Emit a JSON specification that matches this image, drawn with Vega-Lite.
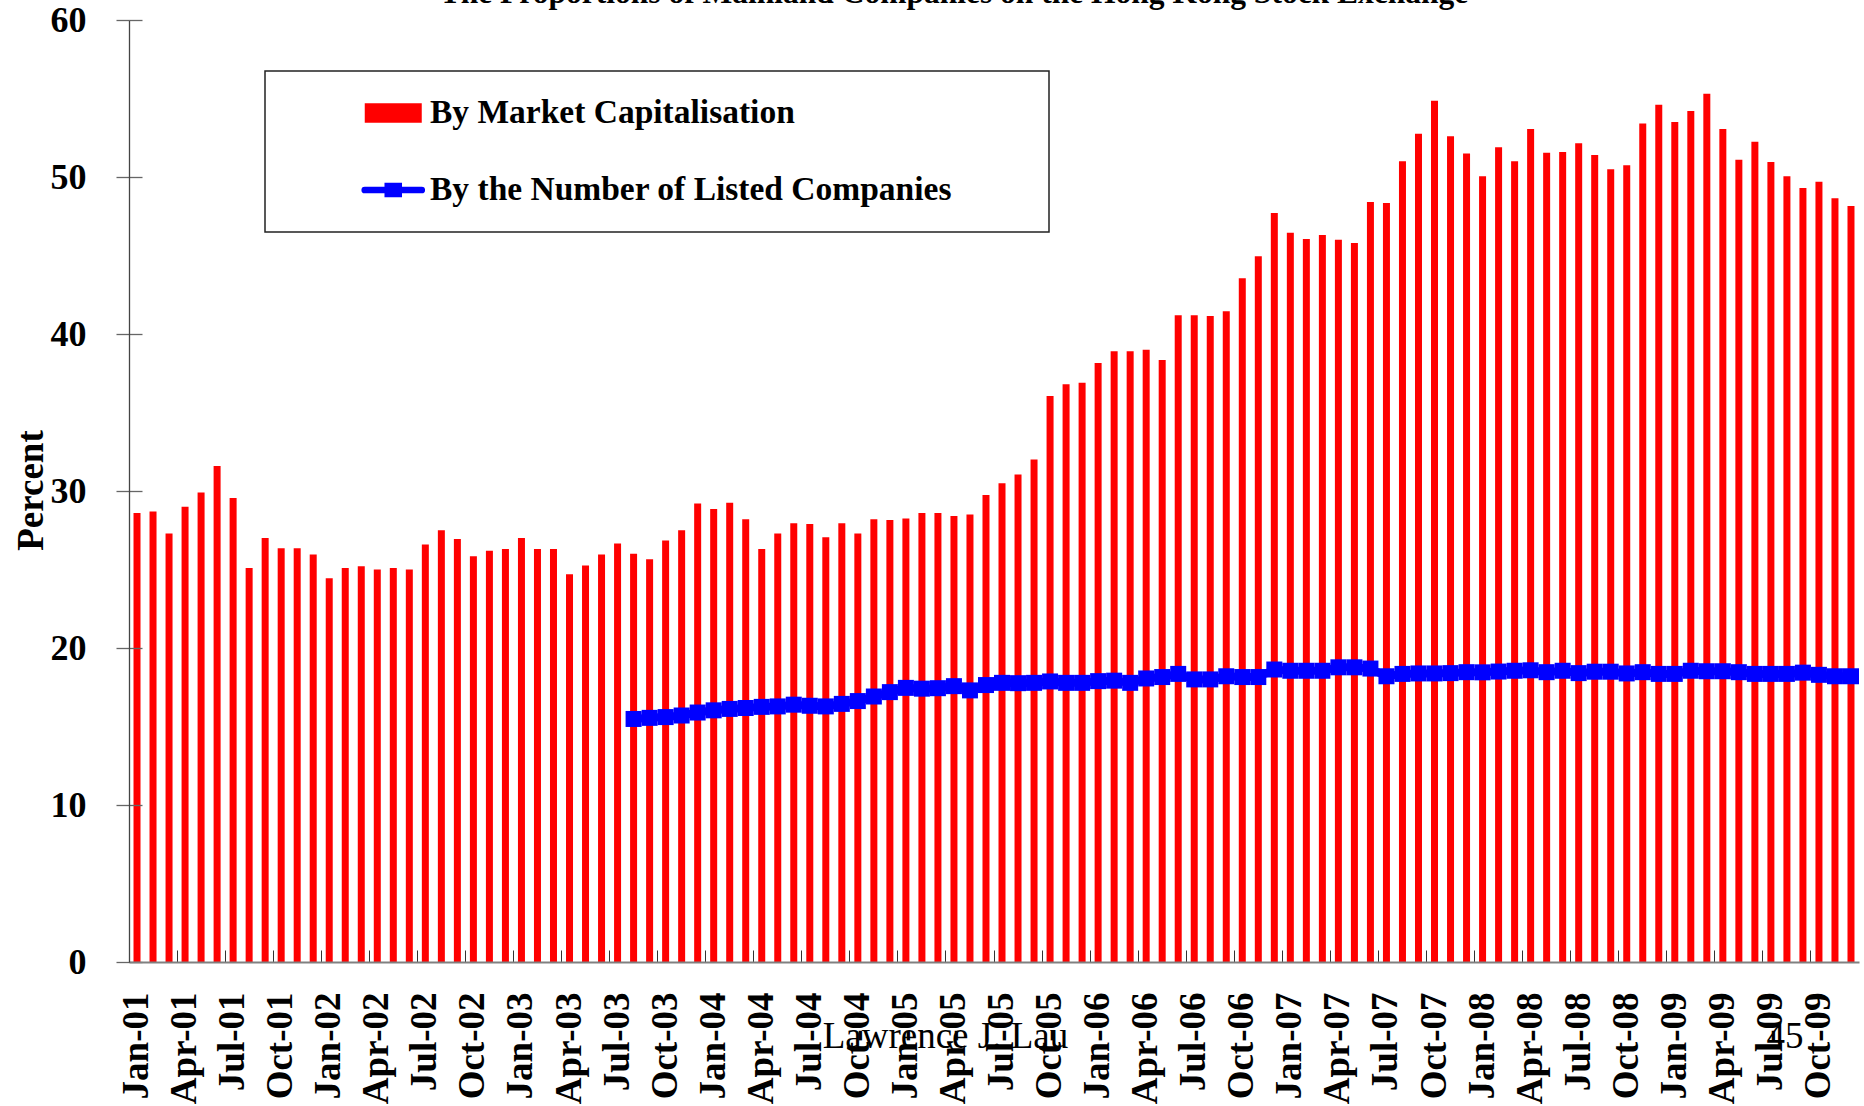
{
  "$schema": "https://vega.github.io/schema/vega-lite/v6.json",
  "width": 1730,
  "height": 942,
  "autosize": {"type": "none"},
  "padding": {"left": 129, "top": 20, "right": 5, "bottom": 144},
  "background": "white",
  "title": {
    "text": "The Proportions of Mainland Companies on the Hong Kong Stock Exchange",
    "font": "Liberation Serif", "fontSize": 31.5, "fontWeight": "bold", "color": "#000000",
    "anchor": "middle", "frame": "group", "baseline": "alphabetic", "offset": -32, "dx": -40
  },
  "data": {"values": [
    {"month": "Jan-01", "cap": 28.6}, {"month": "Feb-01", "cap": 28.7}, {"month": "Mar-01", "cap": 27.3},
    {"month": "Apr-01", "cap": 29.0}, {"month": "May-01", "cap": 29.9}, {"month": "Jun-01", "cap": 31.6},
    {"month": "Jul-01", "cap": 29.55}, {"month": "Aug-01", "cap": 25.1}, {"month": "Sep-01", "cap": 27.0},
    {"month": "Oct-01", "cap": 26.35}, {"month": "Nov-01", "cap": 26.35}, {"month": "Dec-01", "cap": 25.95},
    {"month": "Jan-02", "cap": 24.45}, {"month": "Feb-02", "cap": 25.1}, {"month": "Mar-02", "cap": 25.2},
    {"month": "Apr-02", "cap": 25.0}, {"month": "May-02", "cap": 25.1}, {"month": "Jun-02", "cap": 25.0},
    {"month": "Jul-02", "cap": 26.6}, {"month": "Aug-02", "cap": 27.5}, {"month": "Sep-02", "cap": 26.95},
    {"month": "Oct-02", "cap": 25.85}, {"month": "Nov-02", "cap": 26.2}, {"month": "Dec-02", "cap": 26.3},
    {"month": "Jan-03", "cap": 27.0}, {"month": "Feb-03", "cap": 26.3}, {"month": "Mar-03", "cap": 26.3},
    {"month": "Apr-03", "cap": 24.7}, {"month": "May-03", "cap": 25.25}, {"month": "Jun-03", "cap": 25.95},
    {"month": "Jul-03", "cap": 26.65}, {"month": "Aug-03", "cap": 26.0, "num": 15.48}, {"month": "Sep-03", "cap": 25.65, "num": 15.55},
    {"month": "Oct-03", "cap": 26.85, "num": 15.6}, {"month": "Nov-03", "cap": 27.5, "num": 15.7}, {"month": "Dec-03", "cap": 29.2, "num": 15.89},
    {"month": "Jan-04", "cap": 28.85, "num": 16.03}, {"month": "Feb-04", "cap": 29.25, "num": 16.12}, {"month": "Mar-04", "cap": 28.2, "num": 16.18},
    {"month": "Apr-04", "cap": 26.3, "num": 16.25}, {"month": "May-04", "cap": 27.3, "num": 16.28}, {"month": "Jun-04", "cap": 27.95, "num": 16.39},
    {"month": "Jul-04", "cap": 27.9, "num": 16.32}, {"month": "Aug-04", "cap": 27.05, "num": 16.28}, {"month": "Sep-04", "cap": 27.95, "num": 16.44},
    {"month": "Oct-04", "cap": 27.3, "num": 16.62}, {"month": "Nov-04", "cap": 28.2, "num": 16.91}, {"month": "Dec-04", "cap": 28.15, "num": 17.19},
    {"month": "Jan-05", "cap": 28.25, "num": 17.46}, {"month": "Feb-05", "cap": 28.6, "num": 17.41}, {"month": "Mar-05", "cap": 28.6, "num": 17.44},
    {"month": "Apr-05", "cap": 28.4, "num": 17.57}, {"month": "May-05", "cap": 28.5, "num": 17.3}, {"month": "Jun-05", "cap": 29.75, "num": 17.64},
    {"month": "Jul-05", "cap": 30.5, "num": 17.78}, {"month": "Aug-05", "cap": 31.05, "num": 17.76}, {"month": "Sep-05", "cap": 32.0, "num": 17.78},
    {"month": "Oct-05", "cap": 36.05, "num": 17.87}, {"month": "Nov-05", "cap": 36.8, "num": 17.78}, {"month": "Dec-05", "cap": 36.9, "num": 17.78},
    {"month": "Jan-06", "cap": 38.15, "num": 17.89}, {"month": "Feb-06", "cap": 38.9, "num": 17.92}, {"month": "Mar-06", "cap": 38.9, "num": 17.78},
    {"month": "Apr-06", "cap": 39.0, "num": 18.06}, {"month": "May-06", "cap": 38.35, "num": 18.15}, {"month": "Jun-06", "cap": 41.2, "num": 18.35},
    {"month": "Jul-06", "cap": 41.2, "num": 18.0}, {"month": "Aug-06", "cap": 41.15, "num": 18.0}, {"month": "Sep-06", "cap": 41.45, "num": 18.2},
    {"month": "Oct-06", "cap": 43.55, "num": 18.15}, {"month": "Nov-06", "cap": 44.95, "num": 18.15}, {"month": "Dec-06", "cap": 47.7, "num": 18.63},
    {"month": "Jan-07", "cap": 46.45, "num": 18.55}, {"month": "Feb-07", "cap": 46.05, "num": 18.55}, {"month": "Mar-07", "cap": 46.3, "num": 18.55},
    {"month": "Apr-07", "cap": 46.0, "num": 18.77}, {"month": "May-07", "cap": 45.8, "num": 18.77}, {"month": "Jun-07", "cap": 48.4, "num": 18.69},
    {"month": "Jul-07", "cap": 48.35, "num": 18.2}, {"month": "Aug-07", "cap": 51.0, "num": 18.35}, {"month": "Sep-07", "cap": 52.75, "num": 18.38},
    {"month": "Oct-07", "cap": 54.85, "num": 18.38}, {"month": "Nov-07", "cap": 52.6, "num": 18.4}, {"month": "Dec-07", "cap": 51.5, "num": 18.46},
    {"month": "Jan-08", "cap": 50.05, "num": 18.45}, {"month": "Feb-08", "cap": 51.9, "num": 18.5}, {"month": "Mar-08", "cap": 51.0, "num": 18.55},
    {"month": "Apr-08", "cap": 53.05, "num": 18.58}, {"month": "May-08", "cap": 51.55, "num": 18.46}, {"month": "Jun-08", "cap": 51.6, "num": 18.55},
    {"month": "Jul-08", "cap": 52.15, "num": 18.4}, {"month": "Aug-08", "cap": 51.4, "num": 18.49}, {"month": "Sep-08", "cap": 50.5, "num": 18.49},
    {"month": "Oct-08", "cap": 50.75, "num": 18.38}, {"month": "Nov-08", "cap": 53.4, "num": 18.46}, {"month": "Dec-08", "cap": 54.6, "num": 18.35},
    {"month": "Jan-09", "cap": 53.5, "num": 18.35}, {"month": "Feb-09", "cap": 54.2, "num": 18.55}, {"month": "Mar-09", "cap": 55.3, "num": 18.52},
    {"month": "Apr-09", "cap": 53.05, "num": 18.52}, {"month": "May-09", "cap": 51.1, "num": 18.46}, {"month": "Jun-09", "cap": 52.25, "num": 18.35},
    {"month": "Jul-09", "cap": 50.95, "num": 18.35}, {"month": "Aug-09", "cap": 50.05, "num": 18.35}, {"month": "Sep-09", "cap": 49.3, "num": 18.43},
    {"month": "Oct-09", "cap": 49.7, "num": 18.29}, {"month": "Nov-09", "cap": 48.65, "num": 18.2}, {"month": "Dec-09", "cap": 48.15, "num": 18.2}
  ]},
  "encoding": {
    "x": {
      "field": "month", "type": "ordinal", "sort": null,
      "scale": {"paddingInner": 0, "paddingOuter": 0},
      "axis": {
        "title": null,
        "values": ["Jan-01","Apr-01","Jul-01","Oct-01","Jan-02","Apr-02","Jul-02","Oct-02","Jan-03","Apr-03","Jul-03","Oct-03","Jan-04","Apr-04","Jul-04","Oct-04","Jan-05","Apr-05","Jul-05","Oct-05","Jan-06","Apr-06","Jul-06","Oct-06","Jan-07","Apr-07","Jul-07","Oct-07","Jan-08","Apr-08","Jul-08","Oct-08","Jan-09","Apr-09","Jul-09","Oct-09"],
        "bandPosition": 0,
        "labelAngle": -90,
        "labelFont": "Liberation Serif", "labelFontSize": 37, "labelFontWeight": "bold", "labelColor": "#000000",
        "labelOverlap": false, "labelPadding": 42,
        "tickSize": -12, "tickColor": "#333333", "tickWidth": 1,
        "domainColor": "#808080", "domainWidth": 2,
        "grid": false, "zindex": 1
      }
    }
  },
  "layer": [
    {
      "mark": {"type": "bar", "width": {"band": 0.437}},
      "encoding": {
        "y": {
          "field": "cap", "type": "quantitative",
          "scale": {"domain": [0, 60], "nice": false},
          "axis": {
            "title": "Percent",
            "values": [0, 10, 20, 30, 40, 50, 60],
            "labelFont": "Liberation Serif", "labelFontSize": 36, "labelFontWeight": "bold", "labelColor": "#000000",
            "labelPadding": 30,
            "tickSize": 13, "tickColor": "#666666", "tickWidth": 1.3,
            "domainColor": "#444444", "domainWidth": 1.3,
            "grid": true, "gridDash": [13, 3000], "gridColor": "#666666", "gridWidth": 1.3,
            "titleFont": "Liberation Serif", "titleFontSize": 37, "titleFontWeight": "bold", "titleColor": "#000000",
            "titleAngle": -90, "titleX": -87, "titleY": 470, "titleAlign": "center", "titleBaseline": "alphabetic",
            "zindex": 1
          }
        },
        "color": {
          "datum": "By Market Capitalisation",
          "scale": {
            "domain": ["By Market Capitalisation", "By the Number of Listed Companies"],
            "range": ["#ff0000", "#0000ff"]
          },
          "legend": {
            "title": " ", "titleOrient": "right", "titlePadding": 85, "titleFontSize": 10,
            "orient": "none", "legendX": 136, "legendY": 51, "direction": "vertical",
            "padding": 12, "strokeColor": "#222222", "fillColor": "#ffffff",
            "symbolSize": 3249, "symbolStrokeWidth": 1.5, "symbolOffset": 99.5,
            "labelOffset": 20, "clipHeight": 60, "rowPadding": 17,
            "labelFont": "Liberation Serif", "labelFontSize": 33.5, "labelFontWeight": "bold", "labelColor": "#000000",
            "labelLimit": 1000,
            "encode": {
              "symbols": {"update": {
                "shape": {"signal": "datum.value == 'By Market Capitalisation' ? 'M-1,-0.34H1V0.34H-1Z' : 'M-1,0H1M-0.19,-0.14H0.19V0.14H-0.19Z'"},
                "fill": {"signal": "datum.value == 'By Market Capitalisation' ? '#ff0000' : '#0000ff'"},
                "stroke": {"signal": "datum.value == 'By Market Capitalisation' ? 'transparent' : '#0000ff'"},
                "strokeWidth": {"signal": "datum.value == 'By Market Capitalisation' ? 0 : 6.7"},
                "strokeCap": {"value": "round"},
                "opacity": {"value": 1}
              }},
              "legend": {"update": {"strokeWidth": {"value": 1.5}}}
            }
          }
        }
      }
    },
    {
      "transform": [{"filter": "isValid(datum.num)"}],
      "mark": {"type": "line", "strokeWidth": 8, "point": {"shape": "square", "size": 256, "filled": true}},
      "encoding": {
        "y": {"field": "num", "type": "quantitative"},
        "color": {"datum": "By the Number of Listed Companies"}
      }
    },
    {
      "data": {"values": [{"label": "Lawrence J. Lau"}]},
      "mark": {"type": "text", "font": "Liberation Serif", "fontSize": 37, "color": "#000000", "align": "center", "baseline": "alphabetic", "dx": 7.5},
      "encoding": {
        "x": {"datum": "Mar-05"},
        "y": {"datum": -5.48},
        "text": {"field": "label"}
      }
    },
    {
      "data": {"values": [{"label": "45"}]},
      "mark": {"type": "text", "font": "Liberation Serif", "fontSize": 37, "color": "#000000", "align": "center", "baseline": "alphabetic", "dx": -2},
      "encoding": {
        "x": {"datum": "Aug-09"},
        "y": {"datum": -5.48},
        "text": {"field": "label"}
      }
    }
  ],
  "config": {"view": {"stroke": null}}
}
